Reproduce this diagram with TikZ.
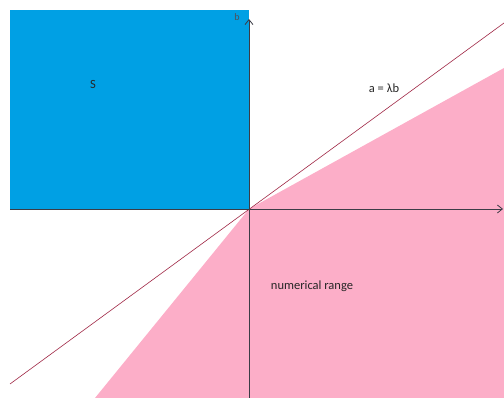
\documentclass[tikz,border=0pt]{standalone}
\usepackage{fontspec}
\setmainfont{Carlito}
\usepackage{tikz}
\usetikzlibrary{arrows.meta, positioning}

\definecolor{setblue}{RGB}{0,160,228}
\definecolor{rangepink}{RGB}{252,174,200}
\definecolor{linered}{RGB}{160,40,70}
\definecolor{axisgray}{RGB}{60,60,70}

\begin{document}
\begin{tikzpicture}[
  x=1pt, y=1pt,
  lbl/.style={font=\fontsize{12.5}{14}\selectfont, text=black!85, inner sep=1pt},
  axis/.style={-{Straight Barb[length=5pt, width=8pt]}, draw=axisgray, line width=0.8pt},
  ray/.style={draw=linered, line width=0.6pt},
]
\useasboundingbox (0,0) rectangle (504,398);

% Points
\coordinate (O) at (249,189);
\coordinate (xl) at (10,189);
\coordinate (xr) at (503,189);
\coordinate (yb) at (249,0);
\coordinate (yt) at (249,379);
\coordinate (rl) at (10,14);
\coordinate (rr) at (504,375);

% Regions
\fill[setblue] (10,189) rectangle (O |- 0,388);
\fill[rangepink] (O) -- (504,330) -- (504,0) -- (95,0) -- cycle;

% Line a = lambda b
\draw[ray] (rl) -- (rr);

% Axes
\draw[axis] (xl) -- (xr);
\draw[axis] (yb) -- (yt);

% Labels
\node[lbl, text=axisgray!90, font=\fontsize{10}{12}\selectfont] (blab) at (237,381) {b};
\node[lbl] (slab) at (93,314) {S};
\node[lbl] (llab) at (384,310) {a = λb};
\node[lbl] (nlab) at (312,112) {numerical range};

\end{tikzpicture}
\end{document}
